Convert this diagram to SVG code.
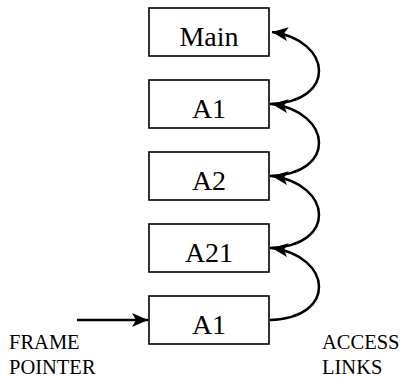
<svg xmlns="http://www.w3.org/2000/svg" width="405" height="378" viewBox="0 0 405 378">
<defs>
<style>
.box{fill:#fff;stroke:#000;stroke-width:1.6}
.lbl{font-family:'Liberation Serif','Times New Roman',serif;font-size:28px;text-anchor:middle;fill:#000}
.cap{font-family:'Liberation Serif','Times New Roman',serif;font-size:20.5px;fill:#000}
.link{fill:none;stroke:#000;stroke-width:2.5}
</style>
<marker id="ah" markerUnits="userSpaceOnUse" markerWidth="18" markerHeight="16" refX="16" refY="8" orient="auto">
<path d="M0,1 L16,8 L0,15 L4,8 z" fill="#000"/>
</marker>
</defs>
<rect width="405" height="378" fill="#fff"/>
<g id="connectors">
<path class="link" d="M270,104 C338,102 332,40 272,32" marker-end="url(#ah)"/>
<path class="link" d="M270,176 C338,174 332,112 272,104" marker-end="url(#ah)"/>
<path class="link" d="M270,248 C338,246 332,184 272,176" marker-end="url(#ah)"/>
<path class="link" d="M270,320 C338,318 332,256 272,248" marker-end="url(#ah)"/>
<path class="link" d="M77,320 L148,320" marker-end="url(#ah)"/>
</g>
<g id="main"><rect class="box" x="149" y="8" width="120" height="48"/><text class="lbl" x="209" y="46">Main</text></g>
<g id="a1-top"><rect class="box" x="149" y="80" width="120" height="48"/><text class="lbl" x="209" y="118">A1</text></g>
<g id="a2"><rect class="box" x="149" y="152" width="120" height="48"/><text class="lbl" x="209" y="190">A2</text></g>
<g id="a21"><rect class="box" x="149" y="224" width="120" height="48"/><text class="lbl" x="209" y="262">A21</text></g>
<g id="a1-bottom"><rect class="box" x="149" y="296" width="120" height="48"/><text class="lbl" x="209" y="334">A1</text></g>
<g id="frame-pointer"><text class="cap" x="9" y="349">FRAME</text><text class="cap" x="9" y="374">POINTER</text></g>
<g id="access-links"><text class="cap" x="322" y="349">ACCESS</text><text class="cap" x="322" y="374">LINKS</text></g>
</svg>
